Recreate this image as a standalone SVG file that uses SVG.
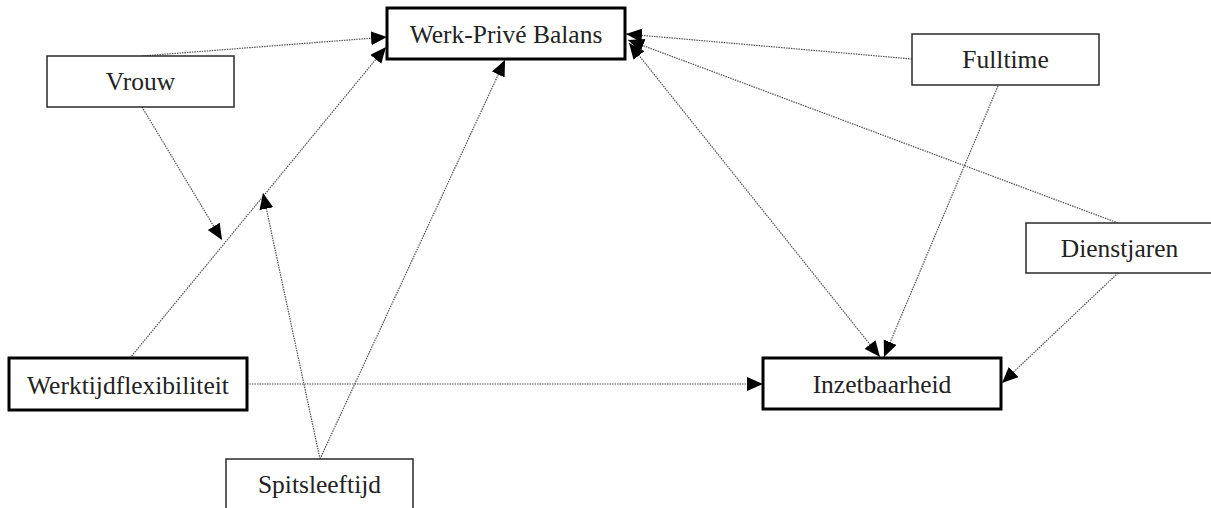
<svg xmlns="http://www.w3.org/2000/svg" width="1211" height="508" viewBox="0 0 1211 508">
  <style>
    .thin { fill: #ffffff; stroke: #2a2a2a; stroke-width: 1.5; }
    .thick { fill: #ffffff; stroke: #000000; stroke-width: 3; }
    .lbl { font-family: "Liberation Serif", "Times New Roman", serif; font-size: 25.5px; fill: #222222; text-anchor: middle; }
    .conn { fill: none; stroke: #505050; stroke-width: 1.2; stroke-dasharray: 1.5 1; marker-end: url(#arrow); }
    .both { marker-start: url(#arrow); }
  </style>
  <defs>
    <marker id="arrow" markerUnits="userSpaceOnUse" markerWidth="17" markerHeight="15" refX="16" refY="7" orient="auto-start-reverse" viewBox="0 0 17 15">
      <path d="M0,0 L16,7 L0,14 z" fill="#000000"/>
    </marker>
  </defs>
  <rect width="1211" height="508" fill="#ffffff"/>

  <g id="connectors">
    <line class="conn" x1="142" y1="56" x2="387" y2="37"/>
    <line class="conn" x1="130" y1="358" x2="386" y2="47"/>
    <line class="conn" x1="142" y1="107" x2="222" y2="240"/>
    <line class="conn" x1="320" y1="459" x2="263" y2="193"/>
    <line class="conn" x1="320" y1="459" x2="505" y2="60"/>
    <line class="conn" x1="247" y1="384" x2="763" y2="384"/>
    <line class="conn" x1="912" y1="59" x2="626" y2="34"/>
    <line class="conn" x1="1118" y1="223" x2="628" y2="40"/>
    <line class="conn" x1="998" y1="86" x2="884" y2="357"/>
    <line class="conn" x1="1118" y1="273" x2="1002" y2="383"/>
    <line class="conn both" x1="629" y1="43" x2="880" y2="357"/>
  </g>

  <g id="vrouw">
    <rect class="thin" x="47" y="56" width="187" height="51"/>
    <text class="lbl" x="140.5" y="90">Vrouw</text>
  </g>
  <g id="werk-prive-balans">
    <rect class="thick" x="387" y="8" width="238" height="51"/>
    <text class="lbl" x="506" y="43">Werk-Privé Balans</text>
  </g>
  <g id="fulltime">
    <rect class="thin" x="912" y="34" width="187" height="51"/>
    <text class="lbl" x="1005.5" y="68">Fulltime</text>
  </g>
  <g id="dienstjaren">
    <rect class="thin" x="1026" y="223" width="187" height="50"/>
    <text class="lbl" x="1119.5" y="257">Dienstjaren</text>
  </g>
  <g id="werktijdflexibiliteit">
    <rect class="thick" x="9" y="358" width="238" height="52"/>
    <text class="lbl" x="128" y="394">Werktijdflexibiliteit</text>
  </g>
  <g id="inzetbaarheid">
    <rect class="thick" x="763" y="358" width="238" height="51"/>
    <text class="lbl" x="882" y="393">Inzetbaarheid</text>
  </g>
  <g id="spitsleeftijd">
    <rect class="thin" x="226" y="459" width="187" height="51"/>
    <text class="lbl" x="319.5" y="493">Spitsleeftijd</text>
  </g>
</svg>
